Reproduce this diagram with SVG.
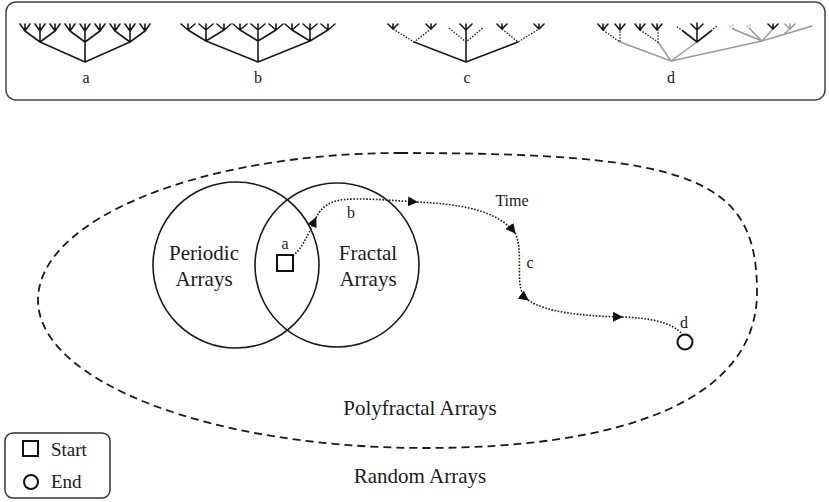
<svg xmlns="http://www.w3.org/2000/svg" width="829" height="502" viewBox="0 0 829 502">
<style>
text{font-family:"Liberation Serif","Times New Roman",serif;fill:#1a1a1a}
.t{fill:none;stroke:#1a1a1a;stroke-width:1.6;stroke-linecap:round;stroke-linejoin:round}
.td{fill:none;stroke:#1a1a1a;stroke-width:1.3;stroke-dasharray:1.5 1.5}
.tg{fill:none;stroke:#9a9a9a;stroke-width:1.5;stroke-linecap:round}
.tgd{fill:none;stroke:#9a9a9a;stroke-width:1.3;stroke-dasharray:1.5 1.5}
.path{fill:none;stroke:#1a1a1a;stroke-width:1.6;stroke-dasharray:1.6 1.6}
.lbl{font-size:16px;text-anchor:middle}
.big{font-size:21px;text-anchor:middle}
</style>
<defs>
<marker id="arr" viewBox="0 0 10 10" refX="9" refY="5" markerWidth="10" markerHeight="10" markerUnits="userSpaceOnUse" orient="auto">
<path d="M0,0 L10,5 L0,10 z" fill="#111"/>
</marker>
</defs>

<g id="panel">
<rect x="6" y="2" width="819" height="98" rx="10" fill="#fff" stroke="#444" stroke-width="1.5"/>
</g>

<g id="tree-a">
<path class="t" d="M40,42 L85,62 L130,42 M85,62 V42
M25,31 L40,42 L55,31 M40,42 V31
M70,31 L85,42 L100,31 M85,42 V31
M115,31 L130,42 L145,31 M130,42 V31
M20,24 L25,31 L30,24 M25,31 V24
M35,24 L40,31 L45,24 M40,31 V24
M50,24 L55,31 L60,24 M55,31 V24
M65,24 L70,31 L75,24 M70,31 V24
M80,24 L85,31 L90,24 M85,31 V24
M95,24 L100,31 L105,24 M100,31 V24
M110,24 L115,31 L120,24 M115,31 V24
M125,24 L130,31 L135,24 M130,31 V24
M140,24 L145,31 L150,24 M145,31 V24"/>
<text class="lbl" x="86" y="83">a</text>
</g>

<g id="tree-b">
<path class="t" d="M206,41 L258,62 L310,41 M258,62 V41
M188,30 L206,41 L224,30 M206,41 V30
M240,30 L258,41 L276,30 M258,41 V30
M292,30 L310,41 L328,30 M310,41 V30
M181,24 L188,30 L195,24 M188,30 V24
M199,24 L206,30 L213,24 M206,30 V24
M217,24 L224,30 L231,24 M224,30 V24
M233,24 L240,30 L247,24 M240,30 V24
M251,24 L258,30 L265,24 M258,30 V24
M269,24 L276,30 L283,24 M276,30 V24
M285,24 L292,30 L299,24 M292,30 V24
M303,24 L310,30 L317,24 M310,30 V24
M321,24 L328,30 L335,24 M328,30 V24"/>
<text class="lbl" x="258" y="83">b</text>
</g>

<g id="tree-c">
<path class="t" d="M414,42 L466,62 L518,42 M466,62 V42 M466,42 V30
M388,24 L393,29 L398,24 M393,29 V24
M426,24 L431,29 L436,24 M431,29 V24
M460,24 L466,30 L472,24 M466,30 V24
M497,24 L502,29 L507,24 M502,29 V24
M534,24 L539,29 L544,24 M539,29 V24"/>
<path class="td" d="M393,29 L414,42 L431,29 M449,28 L466,42 L483,28 M502,29 L518,42 L539,29"/>
<text class="lbl" x="467" y="83">c</text>
</g>

<g id="tree-d">
<path class="tg" d="M620,42 L671,61 L658,42 M671,61 L697,42 M671,61 L762,41 L812,26 M762,41 L733,29 M762,41 L750,29 M762,41 L773,29 M790,29 L785,33"/>
<path class="t" d="M598,24 L603,30 L608,24 M603,30 V24
M615,24 L620,30 L625,24 M620,30 V24
M635,24 L640,30 L645,24 M640,30 V24
M652,24 L657,30 L662,24 M657,30 V24
M683,31 L697,42 L711,31 M697,42 V30 M691,24 L697,30 L703,24 M697,30 V23
M768,24 L773,29 L778,24 M773,29 V24"/>
<path class="td" d="M603,30 L620,42 V30 M640,30 L658,42 V30 M683,31 L676,26 M711,31 L717,26"/>
<path class="tgd" d="M733,29 L728,25 M733,29 V24 M750,29 L746,25 M750,29 V24"/>
<path class="tg" d="M785,24 L790,29 L795,24 M790,29 V24"/>
<text class="lbl" x="671" y="83">d</text>
</g>

<g id="polyfractal">
<path d="M400,153 C693,153 757,178 757,292 C757,401 622,448 425,448 C210,448 38,381 38,300 C38,219 201,153 400,153 Z" fill="none" stroke="#1a1a1a" stroke-width="1.8" stroke-dasharray="8 5"/>
<text class="big" x="420" y="415">Polyfractal Arrays</text>
</g>

<g id="periodic">
<circle cx="236" cy="265" r="83" fill="none" stroke="#1a1a1a" stroke-width="1.6"/>
<text class="big" x="204" y="260">Periodic</text>
<text class="big" x="204" y="286">Arrays</text>
</g>

<g id="fractal">
<circle cx="337" cy="265" r="82" fill="none" stroke="#1a1a1a" stroke-width="1.6"/>
<text class="big" x="368" y="260">Fractal</text>
<text class="big" x="368" y="286">Arrays</text>
</g>

<g id="start">
<rect x="277" y="255" width="16" height="16" fill="#fff" stroke="#111" stroke-width="2"/>
<text class="lbl" x="285" y="249">a</text>
</g>

<g id="end">
<circle cx="685" cy="342" r="7.5" fill="#fff" stroke="#111" stroke-width="2"/>
<text class="lbl" x="684" y="328">d</text>
</g>

<g id="connectors">
<path class="path" d="M293,256 C304,246 309,232 316,218" marker-end="url(#arr)"/>
<path class="path" d="M316,218 C324,201 338,199 358,199 S400,201 417,202" marker-end="url(#arr)"/>
<path class="path" d="M417,202 C460,204 497,210 515,233" marker-end="url(#arr)"/>
<path class="path" d="M515,233 C522,246 518,268 520,284 C521,292 524,297 528,300" marker-end="url(#arr)"/>
<path class="path" d="M528,300 C545,312 580,316 622,317" marker-end="url(#arr)"/>
<path class="path" d="M622,317 C650,318 672,322 682,334"/>
<text class="lbl" x="351" y="218">b</text>
<text class="lbl" x="512" y="206">Time</text>
<text class="lbl" x="530" y="268">c</text>
</g>

<g id="random">
<text class="big" x="420" y="483">Random Arrays</text>
</g>

<g id="legend">
<rect x="5" y="433" width="105" height="65" rx="8" fill="#fff" stroke="#333" stroke-width="1.5"/>
<rect x="23" y="441" width="15" height="15" fill="none" stroke="#111" stroke-width="2"/>
<text x="51" y="456" style="font-size:19px">Start</text>
<circle cx="31" cy="482" r="7" fill="none" stroke="#111" stroke-width="2"/>
<text x="51" y="488" style="font-size:19px">End</text>
</g>
</svg>
